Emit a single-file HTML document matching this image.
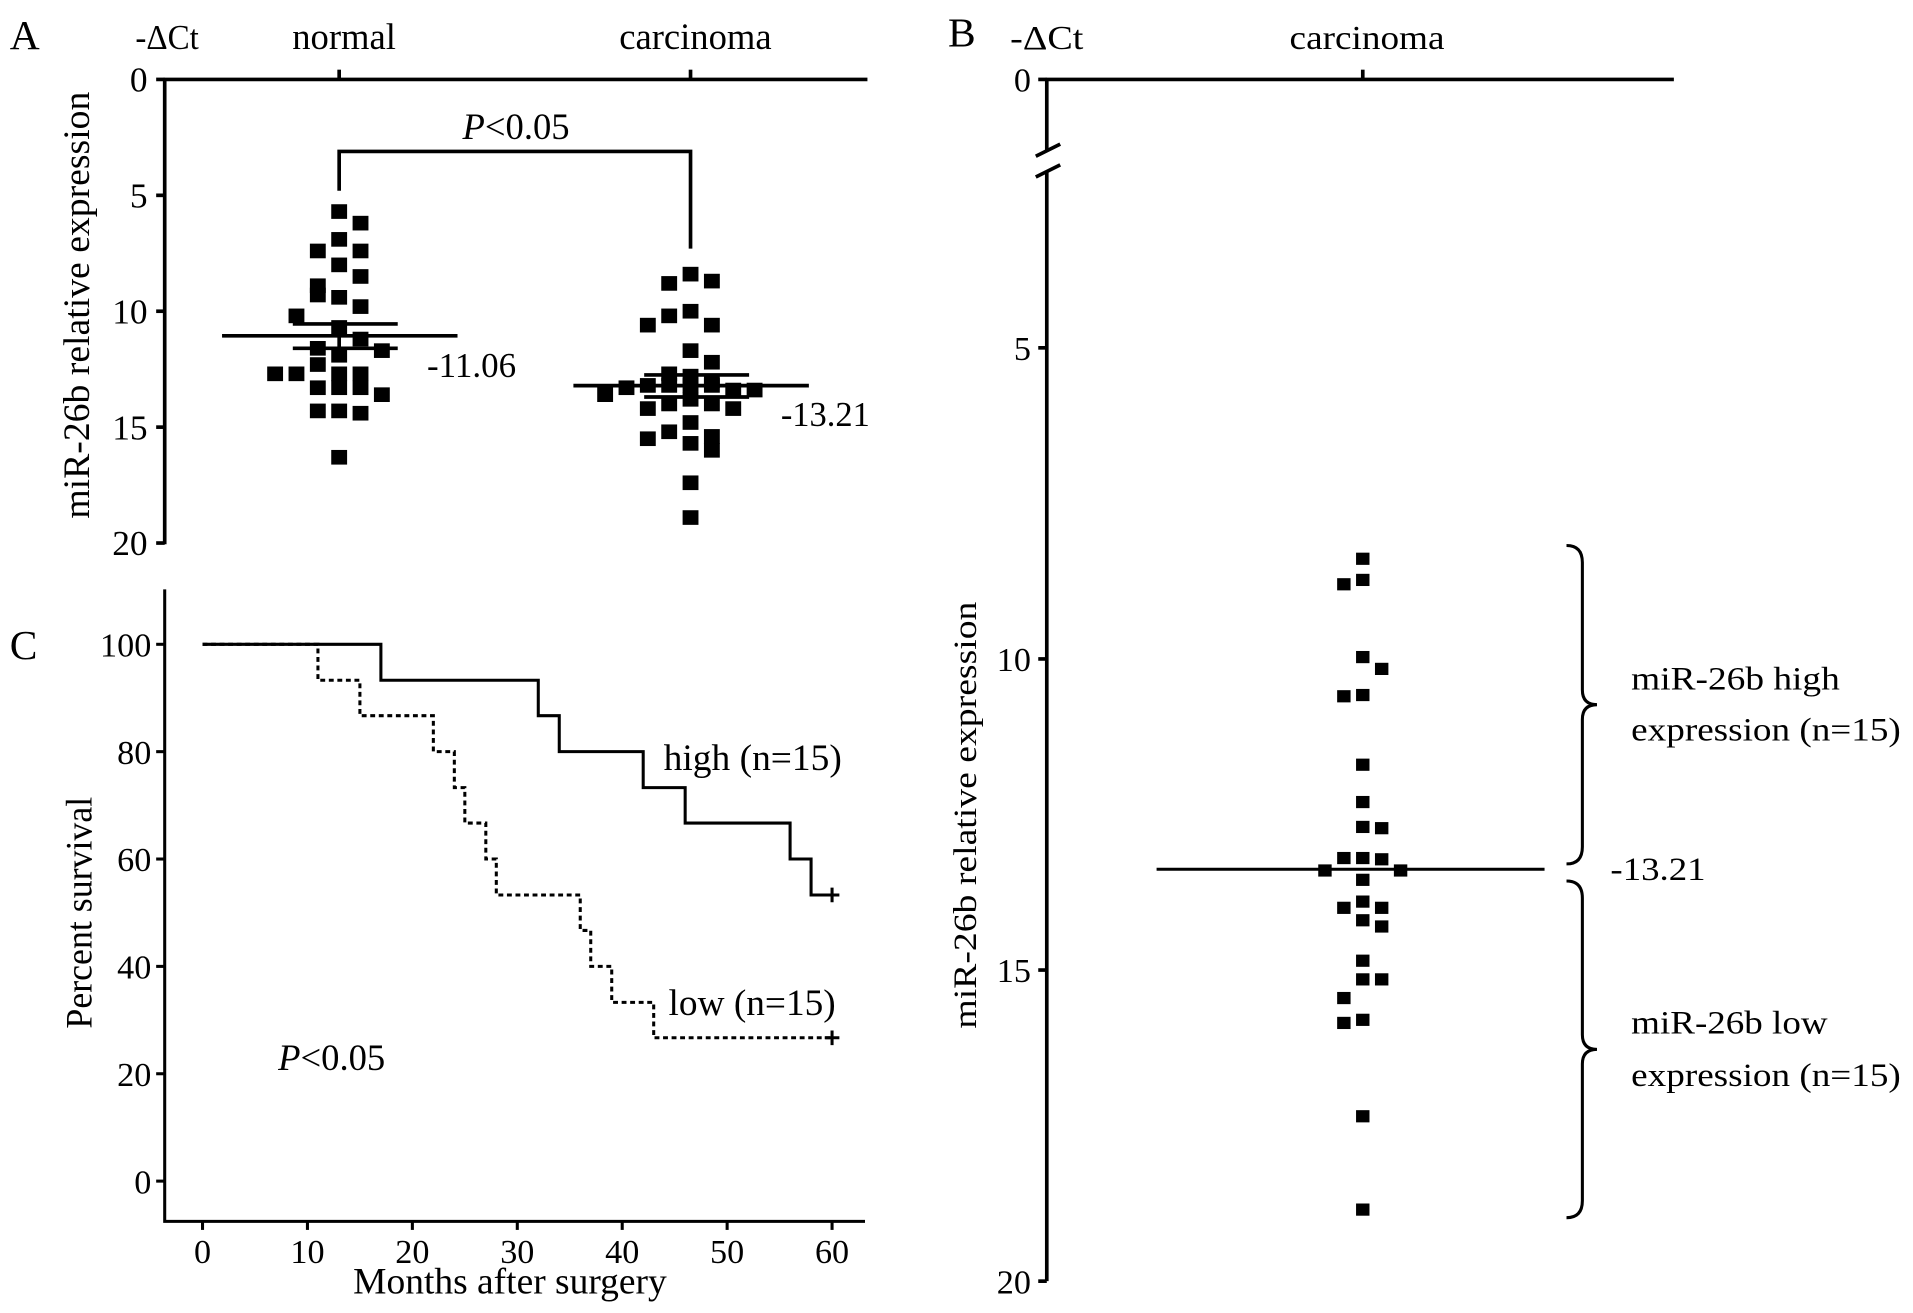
<!DOCTYPE html>
<html><head><meta charset="utf-8"><style>
html,body{margin:0;padding:0;background:#fff}
svg{display:block}
text{font-family:"Liberation Serif",serif;fill:#000}
</style></head><body>
<svg id="fig" width="1913" height="1313" viewBox="0 0 1568 1076">
<g id="pa"></g>
<g id="pb"></g>
<g id="pc"></g>
</svg>
<script>
// Panel A data
const aCategories = ["normal", "carcinoma"];
const aNormal = [5.7,6.2,6.9,7.4,7.4,8.0,8.5,8.9,9.3,9.4,9.8,10.2,10.7,11.2,11.6,11.9,11.7,12.7,12.7,12.3,12.7,12.7,13.3,13.3,13.3,13.6,14.3,14.3,14.4,16.3];
const aNormalJit = [0,1,0,-1,1,0,1,-1,-1,0,1,-2,0,1,-1,0,2,-3,-2,-1,0,1,-1,0,1,2,-1,0,1,0];
const aCarc = [8.4,8.8,8.7,10.0,10.2,10.6,10.6,11.7,12.2,12.7,12.8,13.0,13.6,13.3,13.2,13.2,13.2,13.2,13.4,13.4,14.2,14.0,13.8,14.0,14.2,15.5,15.2,14.8,15.4,16.0,15.7,17.4,18.9];
const aCarcJit = [0,-1,1,0,-1,1,-2,0,1,-1,0,1,-4,-3,-2,-1,0,1,2,3,-2,-1,0,1,2,-2,-1,0,1,1,0,0,0];
const aMeans = [11.06, 13.21];
const aSemLo = [10.55, 12.75];
const aSemHi = [11.6, 13.7];
const aTicks = [0,5,10,15,20];
// Panel B data
const bValues = [8.39,8.8,8.73,9.97,10.16,10.6,10.58,11.7,12.3,12.7,12.72,13.2,13.2,13.22,13.4,13.4,13.55,14.0,13.9,14.0,14.2,14.3,14.85,15.15,15.15,15.45,15.85,15.8,17.35,18.85];
const bJit = [0,-1,0,0,1,-1,0,0,0,0,1,-1,0,1,-2,2,0,-1,0,1,0,1,0,0,1,-1,-1,0,0,0];
const bMeanLine = 13.38;
const bMeanLabel = "-13.21";
const bTicks = [5,10,15,20];
// Panel C data
const cHighT = [0,17,32,34,42,46,56,58,60];
const cHighS = [100,93.3,86.7,80,73.3,66.7,60,53.3,53.3];
const cLowT = [0,11,15,22,24,25,27,28,36,37,39,43,60];
const cLowS = [100,93.3,86.7,80,73.3,66.7,60,53.3,46.7,40,33.3,26.7,26.7];
const cXTicks = [0,10,20,30,40,50,60];
const cYTicks = [0,20,40,60,80,100];

const NS="http://www.w3.org/2000/svg";
function mk(parent,tag,attrs,txt){const e=document.createElementNS(NS,tag);for(const k in attrs)e.setAttribute(k,attrs[k]);if(txt!==undefined)e.textContent=txt;parent.appendChild(e);return e;}
const SG='spacingAndGlyphs';

// ---------- Panel A ----------
const pa=document.getElementById('pa');
const ayA=v=>65+v*19;
const axA={normal:278,carcinoma:566};
let e;
e=mk(pa,'text',{x:8,y:40,'font-size':34},'A');

e=mk(pa,'text',{x:111,y:40,'font-size':29,textLength:52,lengthAdjust:SG},'-ΔCt');

e=mk(pa,'line',{x1:135,y1:65,x2:135,y2:446,stroke:'#000','stroke-width':3});

e=mk(pa,'line',{x1:134,y1:65,x2:711,y2:65,stroke:'#000','stroke-width':3});

aTicks.forEach(t=>{
  e=mk(pa,'line',{x1:128,y1:ayA(t),x2:135,y2:ayA(t),stroke:'#000','stroke-width':3});
  
  e=mk(pa,'text',{x:121,y:ayA(t)+10,'font-size':29,'text-anchor':'end'},String(t));
  
});
aCategories.forEach((c,i)=>{
  e=mk(pa,'line',{x1:axA[c],y1:57,x2:axA[c],y2:65,stroke:'#000','stroke-width':3});
  
  e=mk(pa,'text',{x:axA[c]+4,y:40,'font-size':30,'text-anchor':'middle'},c);
  
});
e=mk(pa,'text',{x:0,y:0,'font-size':30,'text-anchor':'middle',textLength:350,lengthAdjust:SG,transform:'translate(73,250) rotate(-90)'},'miR-26b relative expression');

e=mk(pa,'polyline',{points:`${axA.normal},${ayA(4.8)} ${axA.normal},124 ${axA.carcinoma},124 ${axA.carcinoma},${ayA(7.3)}`,fill:'none',stroke:'#000','stroke-width':3});

e=mk(pa,'text',{x:423,y:114,'font-size':30,'text-anchor':'middle'});

mk(e,'tspan',{'font-style':'italic'},'P');mk(e,'tspan',{},'<0.05');
function dotsA(vals,jit,cx,name){
  vals.forEach((v,i)=>{
    const r=mk(pa,'rect',{x:cx+jit[i]*17.5-6.5,y:ayA(v)-6,width:13,height:12,fill:'#000'});
    
  });
}
dotsA(aNormal,aNormalJit,axA.normal,'normal-point');
dotsA(aCarc,aCarcJit,axA.carcinoma,'carcinoma-point');
aCategories.forEach((c,i)=>{
  const cx=axA[c];
  e=mk(pa,'line',{x1:cx-96,y1:ayA(aMeans[i]),x2:cx+97,y2:ayA(aMeans[i]),stroke:'#000','stroke-width':3});
  
  e=mk(pa,'line',{x1:cx-38,y1:ayA(aSemLo[i]),x2:cx+48,y2:ayA(aSemLo[i]),stroke:'#000','stroke-width':3});
  
  e=mk(pa,'line',{x1:cx-38,y1:ayA(aSemHi[i]),x2:cx+48,y2:ayA(aSemHi[i]),stroke:'#000','stroke-width':3});
  
  e=mk(pa,'line',{x1:cx,y1:ayA(aSemLo[i]),x2:cx,y2:ayA(aSemHi[i]),stroke:'#000','stroke-width':3});
  
});
e=mk(pa,'text',{x:350,y:309,'font-size':29,textLength:73,lengthAdjust:SG},'-'+aMeans[0].toFixed(2));

e=mk(pa,'text',{x:640,y:349,'font-size':29,textLength:73,lengthAdjust:SG},'-'+aMeans[1].toFixed(2));


// ---------- Panel B ----------
const pb=document.getElementById('pb');
const ayB=v=>30+v*51;
const bx=1117;
e=mk(pb,'text',{x:777,y:38,'font-size':34},'B');

e=mk(pb,'text',{x:828,y:40,'font-size':28,textLength:60,lengthAdjust:SG},'-ΔCt');

e=mk(pb,'text',{x:1057,y:40,'font-size':28,textLength:127,lengthAdjust:SG},'carcinoma');

e=mk(pb,'line',{x1:857,y1:65,x2:1372,y2:65,stroke:'#000','stroke-width':3});

e=mk(pb,'line',{x1:bx,y1:57,x2:bx,y2:65,stroke:'#000','stroke-width':3});

e=mk(pb,'line',{x1:858,y1:65,x2:858,y2:123,stroke:'#000','stroke-width':3});

e=mk(pb,'line',{x1:858,y1:140,x2:858,y2:1050,stroke:'#000','stroke-width':3});

e=mk(pb,'path',{d:'M849,128 L869,118 M849,145 L869,135',stroke:'#000','stroke-width':3,fill:'none'});

e=mk(pb,'line',{x1:851,y1:65,x2:858,y2:65,stroke:'#000','stroke-width':3});

e=mk(pb,'text',{x:845,y:75,'font-size':28,'text-anchor':'end'},'0');

bTicks.forEach(t=>{
  e=mk(pb,'line',{x1:851,y1:ayB(t),x2:858,y2:ayB(t),stroke:'#000','stroke-width':3});
  
  e=mk(pb,'text',{x:845,y:ayB(t)+10,'font-size':28,'text-anchor':'end'},String(t));
  
});
e=mk(pb,'text',{x:0,y:0,'font-size':27,'text-anchor':'middle',textLength:350,lengthAdjust:SG,transform:'translate(800,668) rotate(-90)'},'miR-26b relative expression');

e=mk(pb,'line',{x1:948,y1:ayB(bMeanLine),x2:1266,y2:ayB(bMeanLine),stroke:'#000','stroke-width':2.5});

bValues.forEach((v,i)=>{
  const r=mk(pb,'rect',{x:bx+bJit[i]*15.5-5.5,y:ayB(v)-5,width:11,height:10,fill:'#000'});
  
});
function brace(y1,y2,name){
  const m=(y1+y2)/2;
  const p=mk(pb,'path',{d:`M1284,${y1} Q1297,${y1} 1297,${y1+14} L1297,${m-12} Q1297,${m} 1309,${m} Q1297,${m} 1297,${m+12} L1297,${y2-14} Q1297,${y2} 1284,${y2}`,fill:'none',stroke:'#000','stroke-width':2.5});
  
}
brace(447,708,'high-group-brace');
brace(722,998,'low-group-brace');
e=mk(pb,'text',{x:1320,y:721,'font-size':27,textLength:78,lengthAdjust:SG},bMeanLabel);

[['miR-26b high',565,171],['expression (n=15)',607,221],['miR-26b low',847,161],['expression (n=15)',890,221]].forEach(([t,y,w])=>{
  e=mk(pb,'text',{x:1337,y:y,'font-size':27,textLength:w,lengthAdjust:SG},t);
  
});

// ---------- Panel C ----------
const pc=document.getElementById('pc');
const cxs=t=>166+t*8.6;
const cys=s=>968-s*4.4;
e=mk(pc,'text',{x:8,y:540,'font-size':34},'C');

e=mk(pc,'polyline',{points:'135,483 135,1001 709,1001',fill:'none',stroke:'#000','stroke-width':2.5});

cYTicks.forEach(t=>{
  e=mk(pc,'line',{x1:128,y1:cys(t),x2:135,y2:cys(t),stroke:'#000','stroke-width':2.5});
  
  e=mk(pc,'text',{x:124,y:cys(t)+10,'font-size':28,'text-anchor':'end'},String(t));
  
});
cXTicks.forEach(t=>{
  e=mk(pc,'line',{x1:cxs(t),y1:1001,x2:cxs(t),y2:1008,stroke:'#000','stroke-width':2.5});
  
  e=mk(pc,'text',{x:cxs(t),y:1035,'font-size':28,'text-anchor':'middle'},String(t));
  
});
e=mk(pc,'text',{x:418,y:1060,'font-size':30,'text-anchor':'middle',textLength:257,lengthAdjust:SG},'Months after surgery');

e=mk(pc,'text',{x:0,y:0,'font-size':30,'text-anchor':'middle',textLength:190,lengthAdjust:SG,transform:'translate(75,748) rotate(-90)'},'Percent survival');

function km(T,S,dash,name){
  let pts=[];
  for(let i=0;i<T.length;i++){
    if(i>0)pts.push(cxs(T[i])+','+cys(S[i-1]));
    pts.push(cxs(T[i])+','+cys(S[i]));
  }
  const p=mk(pc,'polyline',{points:pts.join(' '),fill:'none',stroke:'#000','stroke-width':2.5});
  if(dash)p.setAttribute('stroke-dasharray','4,3');
  
  const lt=T[T.length-1],ls=S[S.length-1];
  const c=mk(pc,'path',{d:`M${cxs(lt)-6},${cys(ls)} L${cxs(lt)+6},${cys(ls)} M${cxs(lt)},${cys(ls)-6} L${cxs(lt)},${cys(ls)+6}`,stroke:'#000','stroke-width':2.5});
  
}
km(cLowT,cLowS,true,'low-survival-curve');
km(cHighT,cHighS,false,'high-survival-curve');
e=mk(pc,'text',{x:544,y:631,'font-size':30,textLength:146,lengthAdjust:SG},'high (n=15)');

e=mk(pc,'text',{x:548,y:832,'font-size':30,textLength:137,lengthAdjust:SG},'low (n=15)');

e=mk(pc,'text',{x:228,y:877,'font-size':30});

mk(e,'tspan',{'font-style':'italic'},'P');mk(e,'tspan',{},'<0.05');
</script>
</body></html>
